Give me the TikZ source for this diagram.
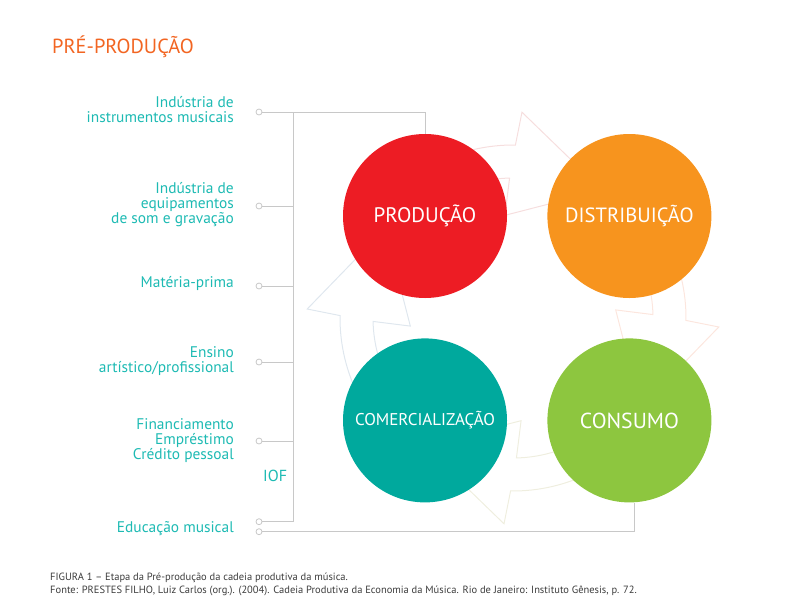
\documentclass[tikz,border=0pt]{standalone}
\usepackage{fontspec}
\setmainfont{PT Sans}
\usetikzlibrary{positioning,calc}

\definecolor{prodred}{HTML}{ED1C24}
\definecolor{distorange}{HTML}{F7941E}
\definecolor{comteal}{HTML}{00A99D}
\definecolor{consgreen}{HTML}{8DC63F}
\definecolor{itemteal}{HTML}{1DBAB3}
\definecolor{titleorange}{HTML}{F26522}
\definecolor{linegray}{HTML}{C8C8C8}
\definecolor{capgray}{HTML}{3C3C3C}
\definecolor{arrred}{HTML}{F6DEDE}
\definecolor{arrorange}{HTML}{FCE6DE}
\definecolor{arrgreen}{HTML}{EFEEDF}
\definecolor{arrblue}{HTML}{DFE7EE}

\begin{document}
\begin{tikzpicture}[x=1pt, y=-1pt,
    stage/.style={circle, minimum size=164pt, inner sep=0pt, text=white},
    dot/.style={circle, draw=linegray, fill=white, inner sep=0pt, minimum size=6pt, line width=0.8pt},
    item/.style={anchor=east, align=right, inner sep=0pt, text=itemteal, font=\fontsize{15.4}{15}\selectfont},
    link/.style={draw=linegray, line width=1pt}]
    \useasboundingbox (0,0) rectangle (800,600);

    % faint cycle arrows behind the stages
    \foreach \b/\col in {270/arrred, 0/arrorange, 90/arrgreen, 180/arrblue}
        \draw[\col, line width=1pt, shift={(513,318)}]
            (\b-55:140) arc[start angle=\b-55, end angle=\b-1.4, radius=140]
            -- (\b-4.5:103) -- (\b+35:156) -- (\b+2.5:206) -- (\b+0.8:173)
            arc[start angle=\b+0.8, end angle=\b-55, radius=173] -- cycle;

    \node [anchor=west, inner sep=0pt, text=titleorange, font=\fontsize{20.4}{20}\selectfont] (title) at (52,47) {PRÉ-PRODUÇÃO};

    \node [stage, fill=prodred, font=\fontsize{21}{21}\selectfont] (PROD) at (425,216) {PRODUÇÃO};
    \node [stage, fill=distorange, right=40pt of PROD, font=\fontsize{20.6}{21}\selectfont] (DIST) {DISTRIBUIÇÃO};
    \node [stage, fill=comteal, below=40pt of PROD, font=\fontsize{17}{17}\selectfont] (COM) {COMERCIALIZAÇÃO};
    \node [stage, fill=consgreen, right=40pt of COM, font=\fontsize{21.7}{22}\selectfont] (CONS) {CONSUMO};

    \node [dot] (d1) at (259,112) {};
    \node [dot] (d2) at (259,206) {};
    \node [dot] (d3) at (259,286) {};
    \node [dot] (d4) at (259,362) {};
    \node [dot] (d5) at (259,441) {};
    \node [dot] (d6) at (259,521.7) {};
    \node [dot] (d7) at (259,531.7) {};

    \node [item] (instr) at (234,110) {Indústria de\\instrumentos musicais};
    \node [item] (equip) at (234,205) {Indústria de\\equipamentos\\de som e gravação};
    \node [item] (mat) at (234,283) {Matéria-prima};
    \node [item] (ensino) at (234,361.5) {Ensino\hspace{3pt}\\artístico/profissional};
    \node [item] (fin) at (234,441) {Financiamento\\Empréstimo\\Crédito pessoal};
    \node [item, anchor=west, font=\fontsize{16}{16}\selectfont] (iof) at (263,476) {IOF};
    \node [item] (edu) at (234,529) {Educação musical};

    \coordinate (top) at (293,112);
    \coordinate (bot) at (293,521.7);
    \draw [link] (top) -- (bot);
    \draw [link] (d1) -| (PROD);
    \foreach \d in {d2,d3,d4,d5,d6}
        \draw [link] (\d) -- (\d -| top);
    \draw [link] (d7) -| ([xshift=5pt]CONS.south);

    \node [anchor=west, align=left, inner sep=0pt, text=capgray, font=\fontsize{10.5}{13}\selectfont] (cap) at (50,584)
        {FIGURA 1 – Etapa da Pré-produção da cadeia produtiva da música.\\
         Fonte: PRESTES FILHO, Luiz Carlos (org.). (2004). Cadeia Produtiva da Economia da Música. Rio de Janeiro: Instituto Gênesis, p. 72.};
\end{tikzpicture}
\end{document}
